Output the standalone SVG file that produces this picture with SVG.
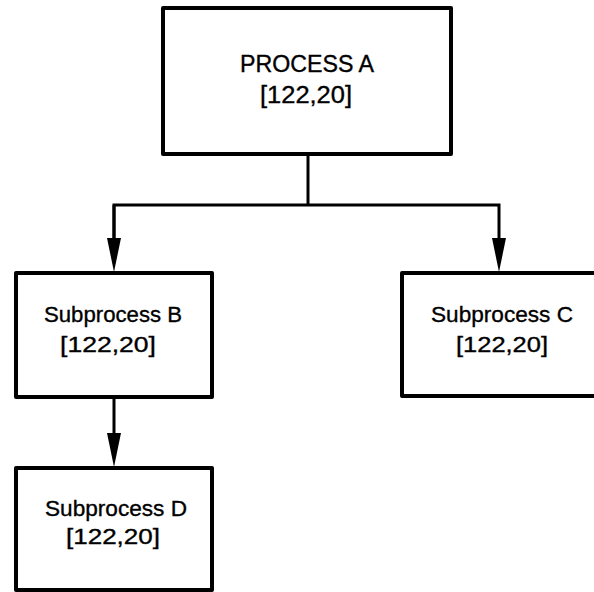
<svg xmlns="http://www.w3.org/2000/svg" width="594" height="592" viewBox="0 0 594 592">
  <style>
    .box { fill: #ffffff; stroke: #000000; stroke-width: 4; stroke-linejoin: round; }
    .lbl { font-family: "Liberation Sans", Arial, sans-serif; font-size: 22px; fill: #000000; stroke: #000000; stroke-width: 0.35; text-anchor: middle; }
    .top { font-size: 23px; }
    .conn { fill: none; stroke: #000000; stroke-width: 3; }
  </style>
  <defs>
    <marker id="arrow" viewBox="0 0 34 14" refX="2" refY="7" markerWidth="34" markerHeight="14" markerUnits="userSpaceOnUse" orient="auto">
      <path d="M0,0 L34,7 L0,14 z" fill="#000000"/>
    </marker>
  </defs>
  <rect width="594" height="592" fill="#ffffff"/>

  <g id="connectors">
    <path class="conn" d="M308,154 L308,205"/>
    <path class="conn" d="M114,240 L114,205 L499,205 L499,240" marker-end="url(#arrow)"/>
    <path class="conn" d="M114,205 L114,240" marker-end="url(#arrow)"/>
    <path class="conn" d="M114,397 L114,435" marker-end="url(#arrow)"/>
  </g>

  <g id="process-a">
    <rect class="box" x="163" y="8" width="288" height="146"/>
    <text class="lbl top" x="307" y="72" textLength="134" lengthAdjust="spacingAndGlyphs">PROCESS A</text>
    <text class="lbl top" x="306" y="103" textLength="92" lengthAdjust="spacingAndGlyphs">[122,20]</text>
  </g>

  <g id="subprocess-b">
    <rect class="box" x="16" y="273" width="196" height="124"/>
    <text class="lbl" x="113" y="322" textLength="138" lengthAdjust="spacingAndGlyphs">Subprocess B</text>
    <text class="lbl" x="108" y="352" textLength="96" lengthAdjust="spacingAndGlyphs">[122,20]</text>
  </g>

  <g id="subprocess-c">
    <rect class="box" x="402" y="273" width="196" height="123"/>
    <text class="lbl" x="502" y="322" textLength="142" lengthAdjust="spacingAndGlyphs">Subprocess C</text>
    <text class="lbl" x="502" y="352" textLength="92" lengthAdjust="spacingAndGlyphs">[122,20]</text>
  </g>

  <g id="subprocess-d">
    <rect class="box" x="16" y="468" width="196" height="122"/>
    <text class="lbl" x="116" y="516" textLength="142" lengthAdjust="spacingAndGlyphs">Subprocess D</text>
    <text class="lbl" x="113" y="544" textLength="94" lengthAdjust="spacingAndGlyphs">[122,20]</text>
  </g>
</svg>
